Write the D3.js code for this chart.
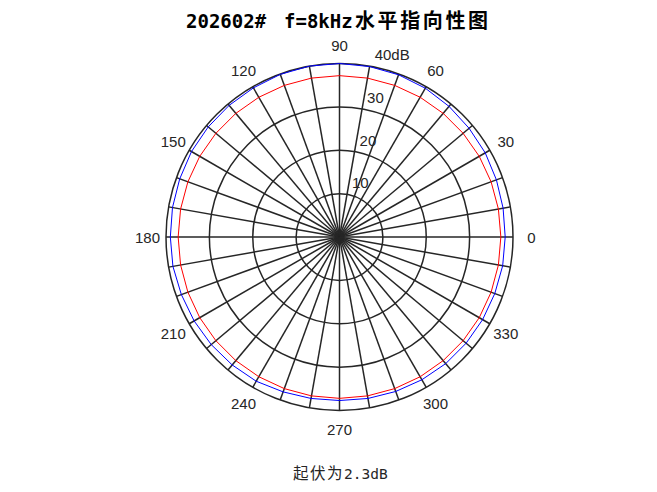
<!DOCTYPE html>
<html>
<head>
<meta charset="utf-8">
<script src="https://cdn.jsdelivr.net/npm/d3@7"></script>
<style>
  body { margin: 0; background: #fff; }
  svg { display: block; }
</style>
</head>
<body>
<div id="chart"></div>
<script>
// measured level (dB) every 10 degrees, 0..350
const angles = d3.range(0, 360, 10);
const blueLevels = [38.2, 38.3, 38.5, 38.8, 39.0, 39.3, 39.6, 39.8, 39.9, 40.0,
                    40.0, 39.9, 39.7, 39.6, 39.5, 39.4, 39.2, 39.1, 39.0, 39.0,
                    38.8, 38.7, 38.6, 38.5, 38.4, 38.0, 37.8, 37.7, 37.8, 37.9,
                    38.0, 38.1, 38.1, 38.1, 38.1, 38.2];
const redLevels = [37.2, 37.2, 37.2, 37.2, 37.2, 37.2, 37.2, 37.2, 37.2, 37.2,
                   37.2, 37.2, 37.2, 37.2, 37.2, 37.2, 37.2, 37.2, 37.2, 37.2,
                   37.2, 37.2, 37.2, 37.2, 37.2, 37.2, 37.2, 37.2, 37.2, 37.2,
                   37.2, 37.2, 37.2, 37.2, 37.2, 37.2];
const ringLevels = [10, 20, 30, 40];
const ringLabels = ["10", "20", "30", "40dB"];
const angleLabels = d3.range(0, 360, 30);

const width = 657;
const height = 492;
const cx = 339.5, cy = 237;
const ink = "#262626";

const svg = d3.select("#chart")
	.append("svg")
	.attr("width", width)
	.attr("height", height);

const r = d3.scaleLinear().domain([0, 40]).range([0, 173.5]);
// degrees counter-clockwise from east -> d3 radial angle (clockwise from north)
const toRad = (deg) => (90 - deg) * Math.PI / 180;

const g = svg.append("g").attr("transform", `translate(${cx},${cy})`);

// spokes every 10 deg
g.selectAll("line.spoke")
	.data(angles)
	.enter()
	.append("line")
	.attr("class", "spoke")
	.attr("x1", 0).attr("y1", 0)
	.attr("x2", (d) => r(40) * Math.sin(toRad(d)))
	.attr("y2", (d) => -r(40) * Math.cos(toRad(d)))
	.attr("stroke", ink)
	.attr("stroke-width", 1.5);

// rings
g.selectAll("circle.ring")
	.data(ringLevels)
	.enter()
	.append("circle")
	.attr("class", "ring")
	.attr("r", (d) => r(d))
	.attr("fill", "none")
	.attr("stroke", ink)
	.attr("stroke-width", 1.5);

const line = d3.lineRadial()
	.angle((d) => toRad(d[0]))
	.radius((d) => r(d[1]))
	.curve(d3.curveLinearClosed);

g.append("path")
	.datum(angles.map((a, i) => [a, redLevels[i]]))
	.attr("d", line)
	.attr("fill", "none")
	.attr("stroke", "#ff0000")
	.attr("stroke-width", 1);

g.append("path")
	.datum(angles.map((a, i) => [a, blueLevels[i]]))
	.attr("d", line)
	.attr("fill", "none")
	.attr("stroke", "#0000ff")
	.attr("stroke-width", 1);

// angle labels
g.selectAll("text.ang")
	.data(angleLabels)
	.enter()
	.append("text")
	.attr("class", "ang")
	.attr("x", (d) => 192 * Math.sin(toRad(d)))
	.attr("y", (d) => -192 * Math.cos(toRad(d)))
	.attr("text-anchor", "middle")
	.attr("dominant-baseline", "central")
	.attr("font-family", "Liberation Sans, Arial, sans-serif")
	.attr("font-size", 15)
	.attr("fill", ink)
	.text((d) => d);

// ring labels along 80 deg
g.selectAll("text.ring")
	.data(ringLevels)
	.enter()
	.append("text")
	.attr("class", "ring")
	.attr("x", (d) => r(d) * Math.sin(toRad(80)) + 5)
	.attr("y", (d) => -r(d) * Math.cos(toRad(80)) - 6)
	.attr("font-family", "Liberation Sans, Arial, sans-serif")
	.attr("font-size", 15)
	.attr("fill", ink)
	.text((d, i) => ringLabels[i]);

// title
const title = svg.append("text")
	.attr("x", 186)
	.attr("y", 28)
	.attr("font-weight", "bold")
	.attr("fill", "#000");
title.append("tspan")
	.attr("font-family", "DejaVu Sans Mono, monospace")
	.attr("font-size", 19)
	.text("202602#");
title.append("tspan")
	.attr("x", 284)
	.attr("font-family", "DejaVu Sans Mono, monospace")
	.attr("font-size", 19)
	.text("f=8kHz");
title.append("tspan")
	.attr("x", 355)
	.attr("font-family", "Noto Sans CJK SC, sans-serif")
	.attr("font-size", 20)
	.attr("letter-spacing", 2.6)
	.text("水平指向性图");

// caption
const cap = svg.append("text")
	.attr("x", 293)
	.attr("y", 479)
	.attr("fill", ink);
cap.append("tspan")
	.attr("font-family", "Noto Sans CJK SC, sans-serif")
	.attr("font-size", 15.5)
	.attr("letter-spacing", 1.5)
	.text("起伏为");
cap.append("tspan")
	.attr("x", 344)
	.attr("font-family", "DejaVu Sans Mono, monospace")
	.attr("font-size", 14.5)
	.text("2.3dB");
</script>
</body>
</html>
